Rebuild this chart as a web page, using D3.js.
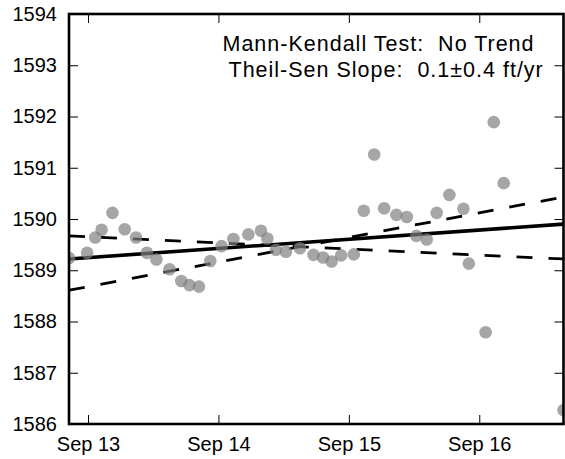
<!DOCTYPE html>
<html>
<head>
<meta charset="utf-8">
<script src="https://cdn.jsdelivr.net/npm/d3@7"></script>
<style>
  html, body { margin: 0; padding: 0; background: #fff; }
  svg { display: block; font-family: "Liberation Sans", Arial, sans-serif; }
</style>
</head>
<body>
<div id="chart"></div>
<script>
// observation times and water levels (ft)
const obsTimes = [
  '2013-09-12T20:30', '2013-09-12T23:50', '2013-09-13T01:20', '2013-09-13T02:30',
  '2013-09-13T04:30', '2013-09-13T06:45', '2013-09-13T08:50', '2013-09-13T10:50',
  '2013-09-13T12:35', '2013-09-13T15:00', '2013-09-13T17:10', '2013-09-13T18:40',
  '2013-09-13T20:25', '2013-09-13T22:30', '2013-09-14T00:35', '2013-09-14T02:45',
  '2013-09-14T05:30', '2013-09-14T07:50', '2013-09-14T09:00', '2013-09-14T10:35',
  '2013-09-14T12:25', '2013-09-14T15:00', '2013-09-14T17:30', '2013-09-14T19:15',
  '2013-09-14T20:50', '2013-09-14T22:35', '2013-09-15T00:55', '2013-09-15T02:45',
  '2013-09-15T04:40', '2013-09-15T06:30', '2013-09-15T08:45', '2013-09-15T10:40',
  '2013-09-15T12:25', '2013-09-15T14:20', '2013-09-15T16:10', '2013-09-15T18:30',
  '2013-09-15T21:05', '2013-09-15T22:05', '2013-09-16T01:10', '2013-09-16T02:40',
  '2013-09-16T04:30', '2013-09-16T15:30'
];
const obsLevels = [
  1589.24, 1589.34, 1589.64, 1589.79, 1590.12, 1589.80, 1589.64, 1589.34,
  1589.21, 1589.02, 1588.79, 1588.71, 1588.68, 1589.18, 1589.47, 1589.61,
  1589.70, 1589.77, 1589.62, 1589.40, 1589.36, 1589.43, 1589.30, 1589.25,
  1589.17, 1589.29, 1589.31, 1590.16, 1591.26, 1590.21, 1590.08, 1590.04,
  1589.67, 1589.60, 1590.12, 1590.47, 1590.20, 1589.13, 1587.79, 1591.89,
  1590.70, 1586.27
];

// Theil-Sen fit and confidence bounds at start / end of record
const trendLine = [1589.22, 1589.90];
const boundA = [1589.67, 1589.22];
const boundB = [1588.61, 1590.43];

const yTicks = [1586, 1587, 1588, 1589, 1590, 1591, 1592, 1593, 1594];
const xTicks = ['2013-09-13T00:00', '2013-09-14T00:00', '2013-09-15T00:00', '2013-09-16T00:00'];
const yDomain = [1586, 1594];

const annotation = ['Mann-Kendall Test:  No Trend', 'Theil-Sen Slope:  0.1\u00b10.4 ft/yr'];

const width = 565, height = 459;
const margin = { top: 14, right: 1.5, bottom: 35, left: 69 };
const innerWidth = width - margin.left - margin.right;
const innerHeight = height - margin.top - margin.bottom;

const parse = d3.timeParse('%Y-%m-%dT%H:%M');
const data = obsTimes.map((t, i) => ({ date: parse(t), value: obsLevels[i] }));
const extent = d3.extent(data, d => d.date);

const svg = d3.select('#chart')
  .append('svg')
  .attr('width', width)
  .attr('height', height);

const g = svg.append('g')
  .attr('transform', `translate(${margin.left},${margin.top})`);

const x = d3.scaleTime()
  .domain(extent)
  .range([0, innerWidth]);

const y = d3.scaleLinear()
  .domain(yDomain)
  .range([innerHeight, 0]);

g.append('clipPath')
  .attr('id', 'plot-clip')
  .append('rect')
  .attr('width', innerWidth)
  .attr('height', innerHeight);

const plot = g.append('g').attr('clip-path', 'url(#plot-clip)');

// trend lines
const line = d3.line()
  .x(d => x(d[0]))
  .y(d => y(d[1]));

const toSegment = vals => [[extent[0], vals[0]], [extent[1], vals[1]]];

[boundA, boundB].forEach(b => {
  plot.append('path')
    .datum(toSegment(b))
    .attr('fill', 'none')
    .attr('stroke', '#000')
    .attr('stroke-width', 2.8)
    .attr('stroke-dasharray', '16,16')
    .attr('d', line);
});

plot.append('path')
  .datum(toSegment(trendLine))
  .attr('fill', 'none')
  .attr('stroke', '#000')
  .attr('stroke-width', 3.6)
  .attr('d', line);

// observations
plot.selectAll('circle')
  .data(data)
  .join('circle')
  .attr('cx', d => x(d.date))
  .attr('cy', d => y(d.value))
  .attr('r', 6.3)
  .attr('fill', '#808080')
  .attr('fill-opacity', 0.7);

// axes with inward ticks
const tickLen = 9;
const styleAxis = sel => {
  sel.select('.domain').remove();
  sel.selectAll('.tick line').attr('stroke', '#000').attr('stroke-width', 1);
  sel.selectAll('.tick text')
    .attr('fill', '#000')
    .style('font-size', '20px')
    .style('font-family', '"Liberation Sans", Arial, sans-serif');
};
const noLabels = sel => sel.selectAll('.tick text').remove();

g.append('g')
  .call(d3.axisLeft(y).tickValues(yTicks).tickFormat(d3.format('d'))
    .tickSizeInner(-tickLen).tickSizeOuter(0).tickPadding(12))
  .call(styleAxis);

g.append('g')
  .attr('transform', `translate(${innerWidth},0)`)
  .call(d3.axisRight(y).tickValues(yTicks)
    .tickSizeInner(-tickLen).tickSizeOuter(0))
  .call(styleAxis)
  .call(noLabels);

const xTickDates = xTicks.map(parse);

g.append('g')
  .attr('transform', `translate(0,${innerHeight})`)
  .call(d3.axisBottom(x).tickValues(xTickDates).tickFormat(d3.timeFormat('%b %d'))
    .tickSizeInner(-tickLen).tickSizeOuter(0).tickPadding(13))
  .call(styleAxis);

g.append('g')
  .call(d3.axisTop(x).tickValues(xTickDates)
    .tickSizeInner(-tickLen).tickSizeOuter(0))
  .call(styleAxis)
  .call(noLabels);

// frame
g.append('rect')
  .attr('width', innerWidth)
  .attr('height', innerHeight)
  .attr('fill', 'none')
  .attr('stroke', '#000')
  .attr('stroke-width', 2.6);

// annotation
const note = g.append('text')
  .attr('font-size', 21.5)
  .attr('letter-spacing', 1)
  .attr('fill', '#000')
  .style('white-space', 'pre')
  .attr('xml:space', 'preserve');

note.append('tspan')
  .attr('x', innerWidth - 341)
  .attr('y', 36.7)
  .text(annotation[0]);

note.append('tspan')
  .attr('x', innerWidth - 335)
  .attr('y', 62.5)
  .text(annotation[1]);
</script>
</body>
</html>
